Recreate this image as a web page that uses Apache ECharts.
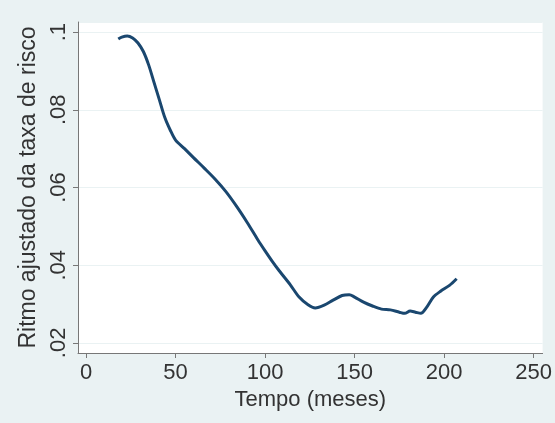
<!DOCTYPE html>
<html>
<head>
<meta charset="utf-8">
<script src="https://cdn.jsdelivr.net/npm/echarts@6/dist/echarts.min.js"></script>
<style>
html,body{margin:0;padding:0;background:#EAF2F3;}
#c{width:555px;height:423px;}
</style>
</head>
<body>
<div id="c"></div>
<script>
var months = [18, 20, 23, 26, 29, 32, 35, 38, 41, 44, 47, 50, 55, 60, 66, 72, 78, 84, 90, 96, 100, 104, 108, 114, 119, 124, 128, 133, 138, 143, 147, 150, 155, 160, 165, 170, 175, 178, 181, 184, 187, 190, 194, 198, 203, 207];
var hazard = [0.0982, 0.0987, 0.0990, 0.0985, 0.0972, 0.0950, 0.0915, 0.0870, 0.0825, 0.0780, 0.0748, 0.0722, 0.0700, 0.0677, 0.0650, 0.0622, 0.0590, 0.0552, 0.0510, 0.0465, 0.0437, 0.0410, 0.0385, 0.0350, 0.0318, 0.0298, 0.0290, 0.0297, 0.0310, 0.0322, 0.0324, 0.0318, 0.0305, 0.0295, 0.0287, 0.0285, 0.0279, 0.0276, 0.0282, 0.0279, 0.0276, 0.0290, 0.0318, 0.0333, 0.0348, 0.0365];
var xTicks = [0, 50, 100, 150, 200, 250];
var yTicks = [0.02, 0.04, 0.06, 0.08, 0.1];

var pts = months.map(function (m, i) { return [m, hazard[i]]; });

function fmtY(v) {
  for (var i = 0; i < yTicks.length; i++) {
    if (Math.abs(v - yTicks[i]) < 1e-6) {
      return String(yTicks[i]).replace(/^0\./, '.');
    }
  }
  return '';
}
function fmtX(v) {
  for (var i = 0; i < xTicks.length; i++) {
    if (Math.abs(v - xTicks[i]) < 1e-6) return String(xTicks[i]);
  }
  return '';
}

var chart = echarts.init(document.getElementById('c'), null, {renderer: 'canvas'});
chart.setOption({
  backgroundColor: '#EAF2F3',
  animation: false,
  grid: {left: 78, right: 10, top: 22, bottom: 70, show: true, backgroundColor: '#ffffff', borderWidth: 0},
  xAxis: {
    type: 'value',
    min: -4.5, max: 255, splitNumber: 5,
    name: 'Tempo (meses)', nameLocation: 'middle', nameGap: 34,
    nameTextStyle: {fontFamily: 'Liberation Sans, Arial, sans-serif', fontSize: 22, color: '#333'},
    axisLine: {show: true, onZero: false, lineStyle: {color: '#777', width: 1}},
    axisTick: {show: true, length: 5, lineStyle: {color: '#777'}},
    axisLabel: {formatter: fmtX, margin: 9, fontFamily: 'Liberation Sans, Arial, sans-serif', fontSize: 22, color: '#333', showMinLabel: false, showMaxLabel: false},
    splitLine: {show: false}
  },
  yAxis: {
    type: 'value',
    min: 0.0174, max: 0.1026, splitNumber: 4,
    name: 'Ritmo ajustado da taxa de risco', nameLocation: 'middle', nameGap: 35,
    nameTextStyle: {fontFamily: 'Liberation Sans, Arial, sans-serif', fontSize: 23, color: '#333'},
    axisLine: {show: true, onZero: false, lineStyle: {color: '#777', width: 1}},
    axisTick: {show: true, length: 5, lineStyle: {color: '#777'}},
    axisLabel: {formatter: fmtY, rotate: 90, margin: 8, fontFamily: 'Liberation Sans, Arial, sans-serif', fontSize: 22, color: '#333', showMinLabel: false, showMaxLabel: false},
    splitLine: {show: true, lineStyle: {color: '#EAF2F3', width: 1}}
  },
  series: [{
    type: 'line',
    data: pts,
    smooth: 0.3,
    showSymbol: false,
    lineStyle: {color: '#1A476F', width: 3}
  }]
});
</script>
</body>
</html>
